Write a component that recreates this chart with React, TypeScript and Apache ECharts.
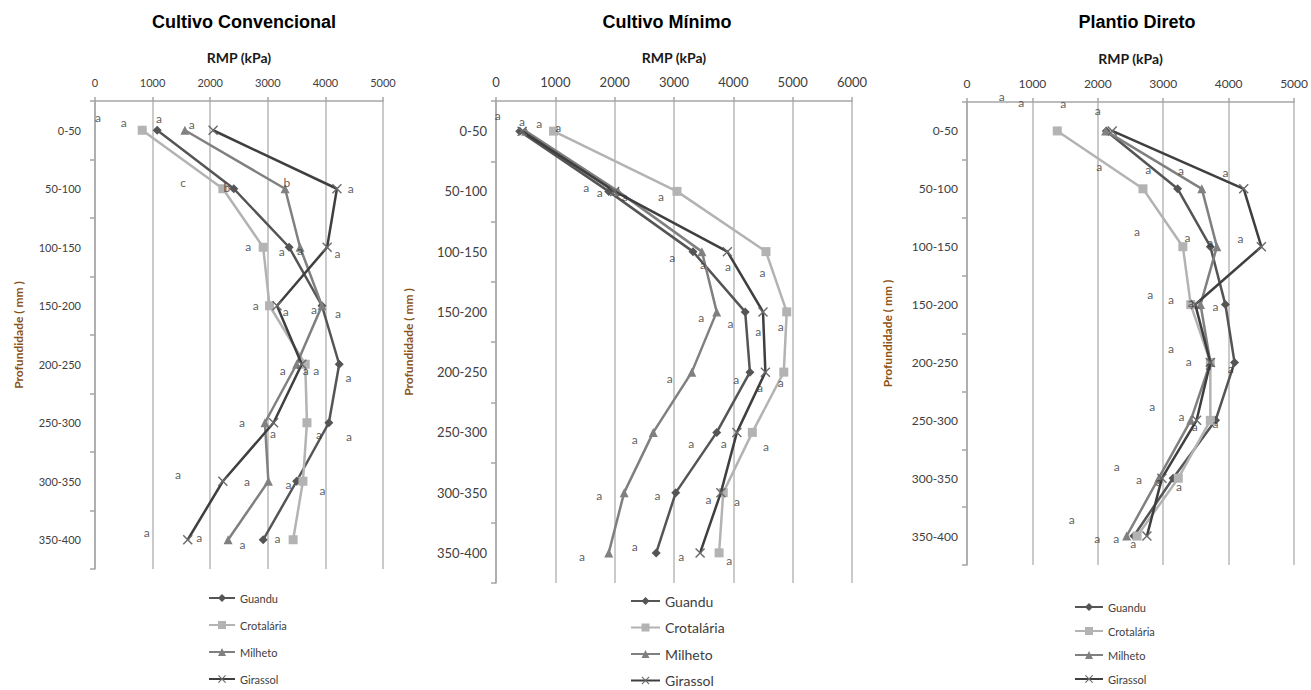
import React, { useEffect, useRef } from 'react';
import * as echarts from 'echarts';

// ---------- data ----------
const depthLabels = ['0-50', '50-100', '100-150', '150-200', '200-250', '250-300', '300-350', '350-400'];
const depthMid = [25, 75, 125, 175, 225, 275, 325, 375];
const seriesNames = ['Guandu', 'Crotalária', 'Milheto', 'Girassol'];
const panelTitles = ['Cultivo Convencional', 'Cultivo Mínimo', 'Plantio Direto'];
const xMaxima = [5000, 6000, 5000];
const xAxisName = 'RMP (kPa)';
const yAxisName = 'Profundidade ( mm )';

// Cultivo Convencional
const convGuandu = [1080, 2410, 3370, 3940, 4240, 4060, 3500, 2920];
const convCrotalaria = [820, 2220, 2920, 3030, 3650, 3680, 3610, 3440];
const convMilheto = [1560, 3300, 3560, 3940, 3500, 2950, 3010, 2310];
const convGirassol = [2050, 4200, 4030, 3160, 3590, 3100, 2220, 1610];

// Cultivo Mínimo
const minGuandu = [400, 1900, 3320, 4200, 4280, 3720, 3030, 2700];
const minCrotalaria = [970, 3050, 4550, 4900, 4850, 4320, 3830, 3760];
const minMilheto = [500, 2060, 3470, 3720, 3300, 2650, 2160, 1900];
const minGirassol = [440, 2000, 3900, 4500, 4540, 4060, 3790, 3440];

// Plantio Direto
const pdGuandu = [2130, 3220, 3720, 3950, 4090, 3800, 3150, 2550];
const pdCrotalaria = [1380, 2690, 3300, 3420, 3720, 3720, 3230, 2600];
const pdMilheto = [2120, 3590, 3820, 3570, 3720, 3420, 2930, 2440];
const pdGirassol = [2220, 4230, 4500, 3490, 3720, 3510, 2980, 2750];

// significance letters: [RMP, depth (mm), letter]
const convLetters: [number, number, string][] = [
  [50, 14, 'a'], [500, 18, 'a'], [1110, 15, 'a'], [1680, 20, 'a'],
  [1530, 70, 'c'], [2290, 74, 'b'], [3330, 70, 'b'], [4440, 75, 'a'],
  [2660, 124, 'a'], [3240, 129, 'a'], [3560, 128, 'a'], [4210, 130, 'a'],
  [2790, 175, 'a'], [3310, 180, 'a'], [3800, 178, 'a'], [4220, 182, 'a'],
  [3260, 230, 'a'], [3660, 230, 'a'], [3840, 230, 'a'], [4400, 236, 'a'],
  [2550, 275, 'a'], [3090, 284, 'a'], [3890, 285, 'a'], [4410, 287, 'a'],
  [1440, 319, 'a'], [2640, 325, 'a'], [3360, 328, 'a'], [3950, 333, 'a'],
  [900, 369, 'a'], [1810, 373, 'a'], [2560, 379, 'a'], [3170, 374, 'a'],
];
const minLetters: [number, number, string][] = [
  [30, 12, 'a'], [440, 17, 'a'], [730, 19, 'a'], [1050, 22, 'a'],
  [1520, 72, 'a'], [1750, 76, 'a'], [2170, 79, 'a'], [2780, 79, 'a'],
  [2970, 130, 'a'], [3490, 136, 'a'], [3910, 137, 'a'], [4490, 142, 'a'],
  [3460, 180, 'a'], [3950, 185, 'a'], [4420, 191, 'a'], [4800, 187, 'a'],
  [2930, 230, 'a'], [4050, 231, 'a'], [4450, 238, 'a'], [4800, 234, 'a'],
  [2340, 281, 'a'], [3290, 284, 'a'], [3840, 284, 'a'], [4550, 287, 'a'],
  [1740, 327, 'a'], [2720, 327, 'a'], [3580, 331, 'a'], [4060, 332, 'a'],
  [1450, 378, 'a'], [2340, 370, 'a'], [3120, 378, 'a'], [3930, 381, 'a'],
];
const pdLetters: [number, number, string][] = [
  [530, -5, 'a'], [830, 0, 'a'], [1470, 1, 'a'], [2000, 7, 'a'],
  [2020, 56, 'a'], [2770, 58, 'a'], [3270, 59, 'a'], [3950, 61, 'a'],
  [2600, 112, 'a'], [3370, 117, 'a'], [3720, 121, 'a'], [4180, 118, 'a'],
  [2800, 166, 'a'], [3120, 171, 'a'], [3420, 173, 'a'], [3800, 177, 'a'],
  [3120, 213, 'a'], [3390, 224, 'a'], [3690, 228, 'a'], [4030, 230, 'a'],
  [2830, 263, 'a'], [3280, 272, 'a'], [3480, 280, 'a'], [3800, 278, 'a'],
  [2290, 315, 'a'], [2630, 326, 'a'], [2930, 328, 'a'], [3240, 332, 'a'],
  [1600, 361, 'a'], [1990, 377, 'a'], [2280, 377, 'a'], [2540, 381, 'a'],
];

const panelSeries = [
  [convGuandu, convCrotalaria, convMilheto, convGirassol],
  [minGuandu, minCrotalaria, minMilheto, minGirassol],
  [pdGuandu, pdCrotalaria, pdMilheto, pdGirassol],
];
const panelLetters = [convLetters, minLetters, pdLetters];

// ---------- layout & style ----------
const layout = [
  { left: 95, top: 101, width: 288, height: 468, titleX: 244, xFont: 11, yFont: 11, yMargin: 14, yNameGap: 71, legLeft: 208, legTop: 592, legW: 26, legLH: 12, legGap: 15, legFont: 11 },
  { left: 496, top: 101, width: 356, height: 482, titleX: 667, xFont: 13, yFont: 13, yMargin: 9, yNameGap: 82, legLeft: 630, legTop: 594, legW: 29, legLH: 14, legGap: 12.5, legFont: 14 },
  { left: 967, top: 102, width: 329, height: 463, titleX: 1137, xFont: 12, yFont: 12, yMargin: 9, yNameGap: 74, legLeft: 1074, legTop: 601, legW: 28, legLH: 12, legGap: 12, legFont: 11 },
];

const X_PATH = 'path://M0,1L1,0L5,4L9,0L10,1L6,5L10,9L9,10L5,6L1,10L0,9L4,5Z';
const seriesStyles = [
  { line: '#555555', mark: '#555555', symbol: 'diamond', size: 9 },
  { line: '#b3b3b3', mark: '#b3b3b3', symbol: 'rect', size: 9 },
  { line: '#808080', mark: '#808080', symbol: 'triangle', size: 9 },
  { line: '#3f3f3f', mark: '#6a6a6a', symbol: X_PATH, size: 10 },
];
const axisColor = '#a6a6a6';
const FONT = 'Lato, "Open Sans", sans-serif';

export default function App() {
  const ref = useRef<HTMLDivElement>(null);
  useEffect(() => {
    if (!ref.current) return;
    const chart = echarts.init(ref.current, undefined, { renderer: 'svg' });

    const grid = layout.map((l) => ({ left: l.left, top: l.top, width: l.width, height: l.height, containLabel: false }));
    const xAxis = layout.map((l, i) => ({
      type: 'value', gridIndex: i, position: 'top', min: 0, max: xMaxima[i], interval: 1000,
      axisLine: { show: true, onZero: false, lineStyle: { color: axisColor, width: 1.5 } },
      axisTick: { show: true, length: 4, lineStyle: { color: axisColor, width: 1.5 } },
      axisLabel: { fontSize: l.xFont, color: '#404040', margin: 13, fontFamily: FONT, formatter: (v: number) => String(v) },
      splitLine: { show: true, lineStyle: { color: '#b8b8b8', width: 1.5 } },
      name: xAxisName, nameLocation: 'middle', nameGap: 37,
      nameTextStyle: { fontWeight: 'bold', fontSize: 14, color: '#1a1a1a', fontFamily: FONT },
    }));
    const yAxis: any[] = [];
    layout.forEach((l, i) => {
      yAxis.push({
        type: 'category', gridIndex: i, data: depthLabels, inverse: true, boundaryGap: true,
        axisLine: { show: true, lineStyle: { color: axisColor, width: 1.5 } },
        axisTick: { show: true, length: 5, lineStyle: { color: axisColor, width: 1.5 } },
        axisLabel: { fontSize: l.yFont, color: '#404040', margin: l.yMargin, fontFamily: FONT },
        splitLine: { show: false },
        name: yAxisName, nameLocation: 'middle', nameGap: l.yNameGap, nameRotate: 90,
        nameTextStyle: { fontWeight: 'bold', fontSize: 12, color: '#8a5215', fontFamily: FONT },
      });
      yAxis.push({ type: 'value', gridIndex: i, min: 0, max: 400, inverse: true, show: false });
    });

    const series: any[] = [];
    panelSeries.forEach((group, i) => {
      group.forEach((vals, s) => {
        const st = seriesStyles[s];
        series.push({
          type: 'line', name: seriesNames[s], xAxisIndex: i, yAxisIndex: 2 * i + 1,
          data: vals.map((v, k) => [v, depthMid[k]]),
          symbol: st.symbol, symbolSize: st.size, showSymbol: true,
          lineStyle: { color: st.line, width: 2.5 },
          itemStyle: { color: st.mark },
          z: 3 + s,
        });
      });
      series.push({
        type: 'scatter', name: 'letras' + i, xAxisIndex: i, yAxisIndex: 2 * i + 1,
        symbolSize: 1, clip: false, silent: true, z: 10,
        itemStyle: { color: 'rgba(0,0,0,0)' },
        label: { show: true, position: 'inside', formatter: '{b}', fontSize: 12, color: '#333333', fontFamily: FONT },
        data: panelLetters[i].map(([x, d, t]) => ({ name: t, value: [x, d] })),
      });
    });

    const legend = layout.map((l) => ({
      orient: 'vertical', left: l.legLeft, top: l.legTop, height: 120, padding: 0,
      itemWidth: l.legW, itemHeight: 10, itemGap: l.legGap,
      data: seriesNames,
      textStyle: { fontSize: l.legFont, lineHeight: l.legLH, color: '#404040', fontFamily: FONT },
    }));

    const graphic = layout.map((l, i) => ({
      type: 'text', x: l.titleX, y: 22,
      style: { text: panelTitles[i], align: 'center', verticalAlign: 'middle', fontSize: 18, fontWeight: 'bold', fontFamily: '"Liberation Sans", Arial, sans-serif', fill: '#000' },
    }));

    chart.setOption({
      animation: false,
      backgroundColor: '#ffffff',
      grid, xAxis, yAxis, series, legend, graphic,
    });
    return () => chart.dispose();
  }, []);
  return <div ref={ref} style={{ position: 'fixed', left: 0, top: 0, width: 1311, height: 690 }} />;
}
